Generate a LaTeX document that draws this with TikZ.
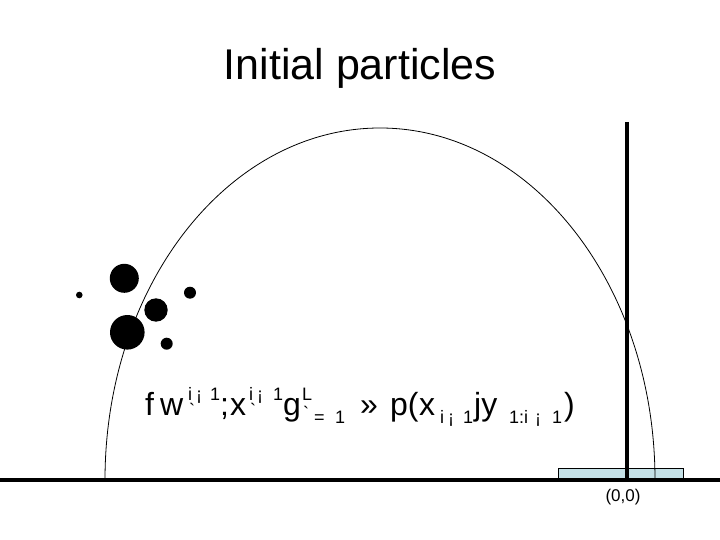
\documentclass[tikz,border=0pt]{standalone}
\usepackage{fontspec}
\setmainfont{Liberation Sans}
\definecolor{boxblue}{RGB}{196,224,230}
\begin{document}
\begin{tikzpicture}[x=1pt,y=-1pt,
  dot/.style={fill=black,draw=none},
  mainf/.style={inner sep=0pt,anchor=base west,font=\fontsize{32}{32}\selectfont},
  smallf/.style={inner sep=0pt,anchor=base west,font=\fontsize{18}{18}\selectfont},
  tick/.style={inner sep=0pt,anchor=base west,font=\fontsize{18}{18}\selectfont,text height=0pt,text depth=0pt},
  thickline/.style={line width=4pt},
  curve/.style={line width=0.8pt}]
\useasboundingbox (0,0) rectangle (720,540);
% title
\node[inner sep=0pt,anchor=base,font=\fontsize{43}{43}\selectfont] (title) at (360,80) {Initial particles};
% box
\draw[fill=boxblue,line width=0.7pt] (558,468) rectangle (683,480);
\node[inner sep=0pt] (box) at (620.5,474) {};
% curve
\coordinate (cl) at (105,480);
\draw[curve] (cl) arc[start angle=180,end angle=360,x radius=275,y radius=352];
% axes
\coordinate (bl) at (0,480);
\coordinate (br) at (720,480);
\coordinate (vt) at (627,122);
\coordinate (vb) at (627,480);
\draw[thickline] (vt) -- (vb);
\draw[thickline] (bl) -- (br);
\node[inner sep=0pt,anchor=base,font=\fontsize{17}{17}\selectfont] (origin) at (623,501) {(0,0)};
% particles
\fill[dot] (79.3,295) circle (3.3);
\fill[dot] (124.3,278.3) circle (14.5);
\fill[dot] (190,292.7) circle (6);
\fill[dot] (156,310) circle (11.7);
\fill[dot] (127.3,332.3) circle (17.3);
\fill[dot] (166.7,343.7) circle (6);
% formula
\node[mainf] (f1) at (145,415) {f};
\node[mainf] (f2) at (160,415) {w};
\node[smallf] (f3a) at (188,400) {i};
\node[smallf] (f3b) at (196,400) {¡};
\node[tick] (f4) at (189,416) {\textasciigrave};
\node[smallf] (f5) at (210,400) {1};
\node[mainf] (f6) at (220,415) {;};
\node[mainf] (f7) at (230,415) {x};
\node[smallf] (f8a) at (249,400) {i};
\node[smallf] (f8b) at (257,400) {¡};
\node[tick] (f9) at (250,416) {\textasciigrave};
\node[smallf] (f10) at (273,400) {1};
\node[mainf] (f11) at (283,415) {g};
\node[smallf] (f12) at (302,400) {L};
\node[tick] (f13) at (303,419) {\textasciigrave};
\node[smallf] (f14) at (314,423) {=};
\node[smallf] (f15) at (335,423) {1};
\node[mainf] (f16) at (360,415) {»};
\node[mainf] (f17) at (390,415) {p(};
\node[mainf] (f18) at (419,415) {x};
\node[smallf] (f19a) at (440,423) {i};
\node[smallf] (f19b) at (448,423) {¡};
\node[smallf] (f20) at (463,423) {1};
\node[mainf] (f21) at (474,415) {jy};
\node[smallf] (f22a) at (509,423) {1:i};
\node[smallf] (f22b) at (535,423) {¡};
\node[smallf] (f23) at (552,423) {1};
\node[mainf] (f24) at (564,415) {)};
\end{tikzpicture}
\end{document}
